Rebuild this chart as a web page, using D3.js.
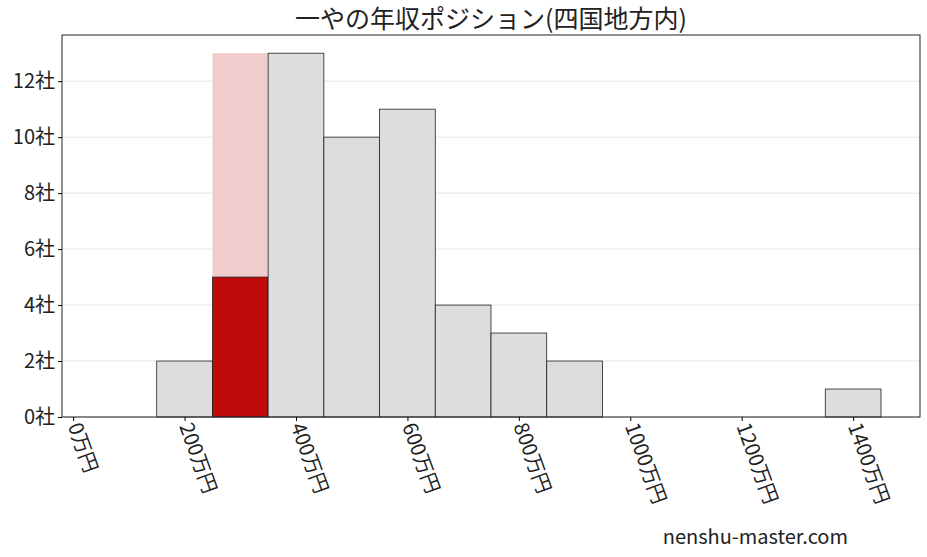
<!DOCTYPE html>
<html><head><meta charset="utf-8">
<script src="https://cdn.jsdelivr.net/npm/d3@7"></script>
<style>body{margin:0;background:#fff}text{font-family:"Noto Sans CJK JP",sans-serif}</style>
</head><body>
<svg id="c" width="927" height="557"></svg>
<script>
const binStarts=[150,250,350,450,550,650,750,850,1350];
const counts=[2,5,13,10,11,4,3,2,1];
const highlightBin=250, highlightTotal=13;
const xTicks=[0,200,400,600,800,1000,1200,1400];
const yTicks=[0,2,4,6,8,10,12];
const binWidth=100;
const title="一やの年収ポジション(四国地方内)";

const svg=d3.select("#c");
const L=62,R=920,T=35,B=417;
const x=d3.scaleLinear().domain([-20,1520]).range([L,R]);
const y=d3.scaleLinear().domain([0,13.65]).range([B,T]);

svg.append("g").selectAll("line").data(yTicks).join("line")
 .attr("x1",L).attr("x2",R).attr("y1",d=>y(d)).attr("y2",d=>y(d))
 .attr("stroke","#ddd").attr("stroke-width",0.8);

svg.append("rect").attr("x",x(highlightBin)).attr("width",x(highlightBin+binWidth)-x(highlightBin))
 .attr("y",y(highlightTotal)).attr("height",y(0)-y(highlightTotal)).attr("fill","#f0cccd");

svg.append("g").selectAll("rect").data(binStarts).join("rect")
 .attr("x",d=>x(d)).attr("width",d=>x(d+binWidth)-x(d))
 .attr("y",(d,i)=>y(counts[i])).attr("height",(d,i)=>y(0)-y(counts[i]))
 .attr("fill",d=>d===highlightBin?"#c00b0b":"#dcdddf")
 .attr("stroke","#222").attr("stroke-width",0.8);

svg.append("rect").attr("x",L).attr("y",T).attr("width",R-L).attr("height",B-T)
 .attr("fill","none").attr("stroke","#222").attr("stroke-width",1);

const xa=svg.append("g").attr("transform",`translate(0,${B})`)
 .call(d3.axisBottom(x).tickValues(xTicks).tickSize(4).tickFormat(d=>d+"万円"));
xa.select(".domain").remove();
xa.selectAll("text").attr("font-size",20).attr("fill","#222")
 .attr("text-anchor","start").attr("dy",0).attr("y",0)
 .attr("transform","translate(-6,9) rotate(70)");

const ya=svg.append("g").attr("transform",`translate(${L},0)`)
 .call(d3.axisLeft(y).tickValues(yTicks).tickSize(4).tickFormat(d=>d+"社"));
ya.select(".domain").remove();
ya.selectAll("text").attr("font-size",20).attr("fill","#222");

svg.append("text").attr("x",491).attr("y",28).attr("text-anchor","middle")
 .attr("font-size",25).attr("fill","#222").text(title);
svg.append("text").attr("x",848).attr("y",544).attr("text-anchor","end")
 .attr("font-size",20).attr("fill","#222").text("nenshu-master.com");
</script>
</body></html>
